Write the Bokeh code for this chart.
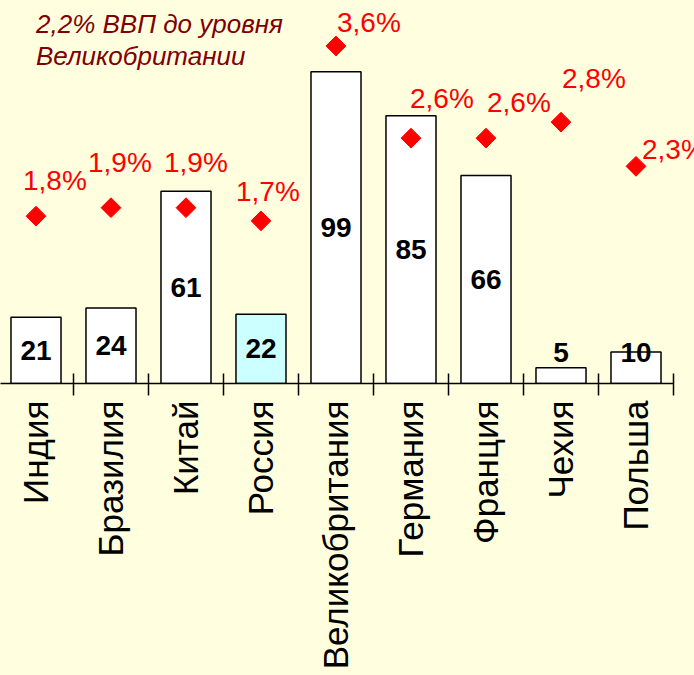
import math
from bokeh.plotting import figure
from bokeh.models import Range1d, FixedTicker, ColumnDataSource, LabelSet, Label
from bokeh.embed import file_html
from bokeh.resources import INLINE
from bokeh.core.properties import value

# ---- data ----
countries = ["Индия", "Бразилия", "Китай", "Россия", "Великобритания",
             "Германия", "Франция", "Чехия", "Польша"]
amounts = [21, 24, 61, 22, 99, 85, 66, 5, 10]
gdp_pct = [1.78, 1.87, 1.87, 1.73, 3.59, 2.61, 2.61, 2.78, 2.31]
highlight = "Россия"
note_lines = ["2,2% ВВП до уровня", "Великобритании"]

# ---- layout / style ----
BG = "#FFFFE0"
FONT = "Liberation Sans"
lab_dx = [-13, -23, -22, -25, 1, -1, 1, 1, 6]   # pixel offsets of % labels
lab_dy = [26, 36, 36, 20, 14, 30, 26, 34, 7]

n = len(countries)
x = list(range(n))
fills = ["#CCFFFF" if c == highlight else "white" for c in countries]
pct_txt = [f"{v:.1f}%".replace(".", ",") for v in gdp_pct]
amt_y = [max(v / 2, 10) for v in amounts]

src = ColumnDataSource(dict(
    x=x, amt=amounts, fill=fills, amt_txt=[str(v) for v in amounts],
    amt_y=amt_y, pct=gdp_pct, pct_txt=pct_txt, dx=lab_dx, dy=lab_dy))

p = figure(width=694, height=675, output_backend="svg", toolbar_location=None,
           x_range=Range1d(-0.4733, 8.78), y_range=Range1d(0, 121.6),
           y_axis_location=None,
           min_border_left=0, min_border_top=0, min_border_right=0, min_border_bottom=292,
           background_fill_color=BG, border_fill_color=BG, outline_line_color=None)
p.extra_y_ranges = {"pct": Range1d(0, 4.074)}
p.grid.visible = False

xa = p.xaxis[0]
xa.bounds = (-0.5, n - 0.5)
xa.ticker = FixedTicker(ticks=x, minor_ticks=[i + 0.5 for i in x])
xa.major_label_overrides = {i: c for i, c in zip(x, countries)}
xa.major_label_orientation = math.pi / 2
xa.major_label_text_font = FONT
xa.major_label_text_font_size = "35px"
xa.major_label_text_color = "black"
xa.major_label_standoff = 5
xa.major_tick_in = 0
xa.major_tick_out = 12
xa.major_tick_line_color = None
xa.minor_tick_in = 10
xa.minor_tick_out = 12
xa.minor_tick_line_color = "black"
xa.minor_tick_line_width = 1.5
xa.axis_line_color = "black"
xa.axis_line_width = 1.5

p.vbar(x="x", top="amt", bottom=0, width=0.667, fill_color="fill",
       line_color="black", line_width=1.5, source=src)

p.text(x="x", y="amt_y", text="amt_txt", text_align="center", text_baseline="middle",
       text_font=value(FONT), text_font_style="bold", text_font_size="28px",
       text_color="black", source=src)

p.scatter(x="x", y="pct", marker="square", size=14, angle=math.pi / 4,
          fill_color="red", line_color="red", y_range_name="pct", source=src)

p.add_layout(LabelSet(x="x", y="pct", text="pct_txt", y_range_name="pct",
                      x_offset="dx", y_offset="dy", text_align="left",
                      text_baseline="alphabetic", text_color="red",
                      text_font=value(FONT), text_font_size="28px", source=src))

for i, line in enumerate(note_lines):
    p.add_layout(Label(x=0, y=114.0 - 10.1 * i, text=line, text_align="left",
                       text_baseline="alphabetic", text_color="#800000",
                       text_font=FONT, text_font_style="italic",
                       text_font_size="26px"))

html = file_html(p, INLINE)
html = html.replace("</head>", f"<style>html,body{{background:{BG};}}</style></head>", 1)
open("out.html", "w").write(html)
